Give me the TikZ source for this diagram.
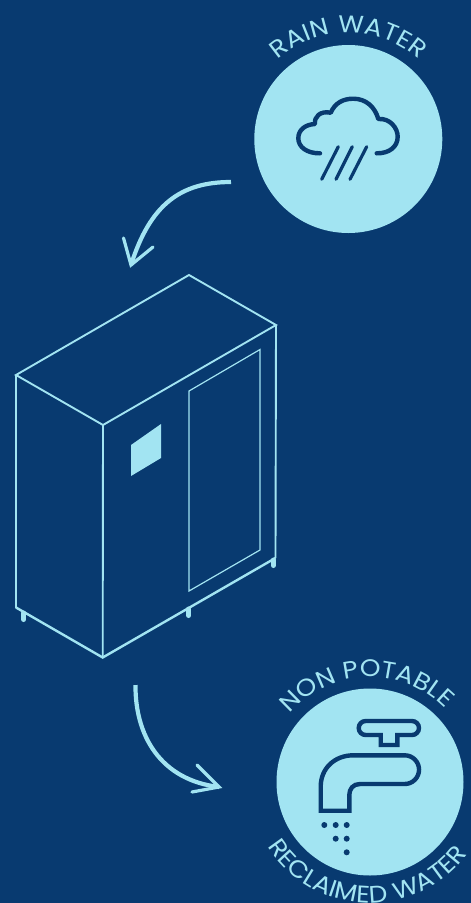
\documentclass[tikz,border=0pt]{standalone}
\usepackage{fontspec}
\usetikzlibrary{decorations.text,arrows.meta}
\newfontfamily\lblfont[LetterSpace=4,FakeStretch=1.1]{Poppins}
\definecolor{bgblue}{RGB}{8,58,112}
\definecolor{sky}{RGB}{162,228,242}
\tikzset{
  disc/.style={circle,fill=sky,inner sep=0pt,minimum size=#1},
  edge/.style={draw=sky,line width=1.9pt,line join=miter},
  base edge/.style={draw=sky,line width=2.4pt,line join=miter},
  thin edge/.style={draw=sky,line width=1.2pt},
  foot/.style={draw=sky,line width=5pt,line cap=round},
  flow/.style={draw=sky,line width=4.2pt},
  flowhead/.style={draw=sky,line width=3.2pt,line cap=round,line join=miter},
  icon/.style={draw=bgblue,line width=4.4pt,line cap=round,line join=round},
  faucet/.style={draw=bgblue,line width=4.4pt,line join=miter},
  rim/.style={decorate,decoration={text along path,text align=center,
      text={|\fontsize{24}{24}\lblfont\color{sky}|#1}}}
}
\begin{document}
\begin{tikzpicture}[x=1pt,y=1pt]
\useasboundingbox (0,0) rectangle (471,-903);
\fill[bgblue] (0,0) rectangle (471,-903);
\clip (0,0) rectangle (471,-903);

% discs
\node[disc=188pt] (rain) at (348.3,-139) {};
\node[disc=187pt] (tap) at (370,-782) {};

% rim labels
\path[rim={RAIN WATER}] ([shift={(165:106)}]rain.center) arc (165:15:106);
\path[rim={NON POTABLE}] ([shift={(170:105)}]tap.center) arc (170:14:105);
\path[decorate,decoration={text along path,text align=left,
   text={|\fontsize{24}{24}\lblfont\color{sky}|RECLAIMED WATER}}]
   ([shift={(212:121)}]tap.center) arc (212:390:121);

% cloud
\draw[icon] (320,-153.3) .. controls (307,-153.5) and (298.3,-147) .. (298.3,-138.3)
  .. controls (298.3,-130) and (305,-124.5) .. (315,-124)
  .. controls (314,-117) and (320,-110.5) .. (330.7,-112.7)
  .. controls (335,-103) and (343,-98.7) .. (353.3,-98.7)
  .. controls (366,-98.7) and (375,-107) .. (378.3,-119)
  .. controls (390,-118) and (397.7,-128) .. (397.7,-136.7)
  .. controls (397.7,-147) and (389,-153.5) .. (376.7,-153.3);
\draw[icon,line width=3.2pt] (338.3,-146.7) -- (321.7,-179.3);
\draw[icon,line width=3.2pt] (352.3,-146.7) -- (336,-179.3);
\draw[icon,line width=3.2pt] (366.7,-146.7) -- (350,-179.3);

% cabinet
\draw[edge] (16,-375) -- (189,-275) -- (276,-325) -- (103,-425) -- cycle;
\draw[edge] (16,-375) -- (16,-607.5);
\draw[base edge] (16,-607.5) -- (102.7,-657.5) -- (275.5,-558);
\draw[edge] (275.5,-558) -- (276,-325);
\draw[edge] (103,-425) -- (102.7,-657.5);
\draw[thin edge] (189,-391) -- (260,-349.5) -- (260,-550) -- (189,-591) -- cycle;
\fill[sky] (131,-445) -- (161,-424) -- (161,-458) -- (131,-476) -- cycle;
\draw[foot] (23.7,-613) -- (23.7,-619.5);
\draw[foot] (188.7,-609) -- (188.7,-615.5);
\draw[foot] (273.3,-560) -- (273.3,-565.5);

% arrows
\coordinate (a1s) at (231,-182);
\coordinate (a1e) at (131,-265);
\coordinate (a1l) at (123.5,-238);
\coordinate (a1r) at (153,-247);
\draw[flow] (a1s) .. controls (180,-182) and (150,-205) .. (a1e);
\draw[flowhead] (a1l) -- (a1e) -- (a1r);
\coordinate (a2s) at (135.5,-685);
\coordinate (a2e) at (219,-787);
\coordinate (a2l) at (197,-765);
\coordinate (a2r) at (192,-792);
\draw[flow] (a2s) .. controls (135,-735) and (160,-780) .. (a2e);
\draw[flowhead] (a2l) -- (a2e) -- (a2r);

% tap handle
\draw[faucet] (380.7,-745) -- (397.3,-745) -- (397.3,-735) -- (412,-735)
  arc (-90:90:7) -- (365.7,-721) arc (90:270:7) -- (380.7,-735) -- cycle;
% spout
\draw[faucet] (404.7,-755.3) arc (90:-90:14.35) -- (360,-784)
  .. controls (353,-784) and (349.3,-789) .. (349.3,-795)
  -- (349.3,-810.7) -- (320.7,-810.7) -- (320.7,-786.7)
  .. controls (320.7,-768) and (335,-755.3) .. (353.3,-755.3) -- cycle;
% drops
\foreach \dx/\dy in {324.3/825,335.7/825,346.7/825,335.7/838.7,346.7/838.7,346.7/852.3}
  \fill[bgblue] (\dx,-\dy) circle (3);
\end{tikzpicture}
\end{document}
